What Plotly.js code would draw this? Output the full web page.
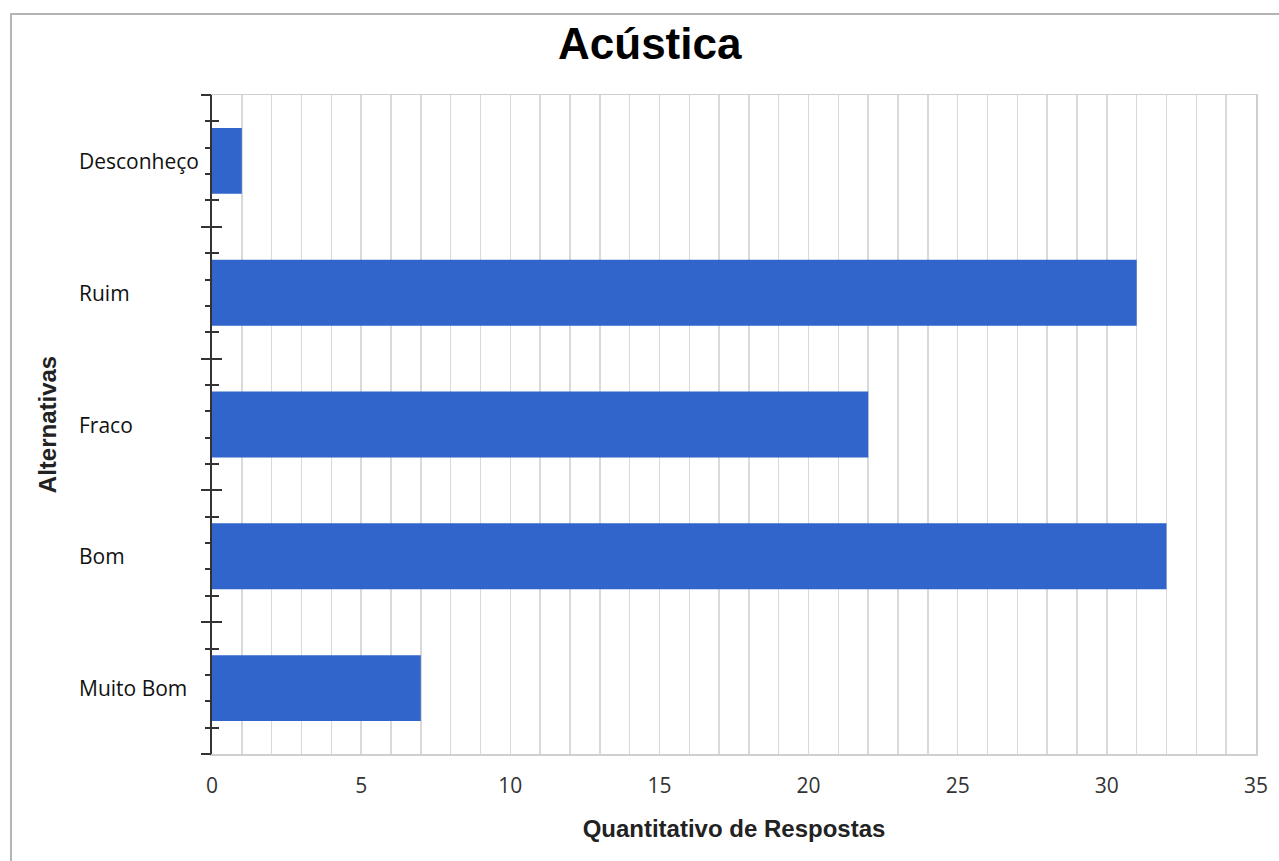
<!DOCTYPE html>
<html>
<head>
<meta charset="utf-8">
<script src="https://cdn.plot.ly/plotly-3.0.1.min.js"></script>
<style>
  html, body { margin: 0; padding: 0; background: #ffffff; }
  #wrap { position: relative; width: 1279px; height: 861px; overflow: hidden; }
  #chart { position: absolute; left: 0; top: 0; width: 1279px; height: 861px; }
  #frame { position: absolute; left: 10px; top: 13px; width: 1300px; height: 900px;
           border-left: 2px solid #b4b4b4; border-top: 2px solid #b4b4b4; pointer-events: none; }
</style>
</head>
<body>
<div id="wrap">
  <div id="chart"></div>
  <div id="frame"></div>
</div>
<script>
// Data
const categories = ["Muito Bom", "Bom", "Fraco", "Ruim", "Desconheço"];
const respostas = [7, 32, 22, 31, 1];
const xTickValues = [0, 5, 10, 15, 20, 25, 30, 35];

const chartTitle = "Acústica";
const xTitle = "Quantitativo de Respostas";
const yTitle = "Alternativas";

const positions = categories.map((c, i) => i);
const boundaries = [];
for (let i = 0; i <= categories.length; i++) boundaries.push(i - 0.5);
const minorAll = [];
const minorCross = [];
for (let i = 0; i < categories.length; i++) {
  [-0.3, -0.1, 0.1, 0.3].forEach(d => minorAll.push(i + d));
  [-0.3, 0.3].forEach(d => minorCross.push(i + d));
}
const yRange = [-0.5, categories.length - 0.5];
const axisDark = "#333333";

const barTrace = {
  type: "bar",
  orientation: "h",
  x: respostas,
  y: positions,
  width: 0.5,
  marker: { color: "#3165cc", line: { width: 0 } },
  hoverinfo: "x+text",
  text: categories,
  textposition: "none",
  showlegend: false
};

// invisible helper traces so the overlaid tick / border axes are drawn
function helper(axisName) {
  return {
    type: "scatter",
    mode: "markers",
    x: respostas,
    y: positions,
    yaxis: axisName,
    marker: { opacity: 0, size: 1 },
    hoverinfo: "skip",
    showlegend: false
  };
}

const annotations = categories.map((c, i) => ({
  text: c,
  xref: "paper",
  yref: "y",
  x: -0.1293,
  y: i,
  xanchor: "left",
  yanchor: "middle",
  showarrow: false,
  font: { family: "Open Sans, sans-serif", size: 21, color: "#111111" }
}));

const layout = {
  width: 1279,
  height: 861,
  margin: { l: 212, r: 23, t: 95, b: 107 },
  paper_bgcolor: "#ffffff",
  plot_bgcolor: "#ffffff",
  bargap: 0.5,
  title: {
    text: "<b>" + chartTitle + "</b>",
    xref: "container",
    yref: "container",
    x: 0.508,
    y: 1 - 44 / 861,
    xanchor: "center",
    yanchor: "middle",
    font: { family: "Liberation Sans, Arial, sans-serif", size: 44, color: "#000000" }
  },
  xaxis: {
    range: [0, 35],
    tickvals: xTickValues,
    ticktext: xTickValues.map(String),
    ticks: "outside",
    ticklen: 12,
    tickcolor: "rgba(0,0,0,0)",
    tickfont: { family: "Open Sans, sans-serif", size: 21, color: "#333333" },
    showgrid: true,
    gridcolor: "#d9d9d9",
    gridwidth: 1.5,
    minor: { dtick: 1, tick0: 0, showgrid: true, gridcolor: "#d9d9d9", gridwidth: 1.5, ticks: "" },
    zeroline: false,
    showline: true,
    linecolor: "#cfcfcf",
    linewidth: 1.5,
    mirror: true,
    fixedrange: true,
    title: {
      text: "<b>" + xTitle + "</b>",
      standoff: 22,
      font: { family: "Liberation Sans, Arial, sans-serif", size: 24, color: "#222222" }
    }
  },
  yaxis: {
    range: yRange,
    showticklabels: false,
    ticks: "",
    showgrid: false,
    zeroline: false,
    showline: true,
    linecolor: axisDark,
    linewidth: 2,
    fixedrange: true,
    title: {
      text: "<b>" + yTitle + "</b>",
      standoff: 147,
      font: { family: "Liberation Sans, Arial, sans-serif", size: 24, color: "#222222" }
    }
  },
  yaxis2: {
    overlaying: "y",
    range: yRange,
    tickmode: "array",
    tickvals: boundaries,
    ticks: "outside",
    ticklen: 10,
    tickwidth: 2,
    tickcolor: axisDark,
    showticklabels: false,
    showgrid: false,
    zeroline: false,
    showline: false,
    fixedrange: true,
    minor: { tickmode: "array", tickvals: minorAll, ticks: "outside", ticklen: 6, tickwidth: 2, tickcolor: axisDark, showgrid: false }
  },
  yaxis3: {
    overlaying: "y",
    range: yRange,
    tickmode: "array",
    tickvals: boundaries,
    ticks: "inside",
    ticklen: 10,
    tickwidth: 2,
    tickcolor: axisDark,
    showticklabels: false,
    showgrid: false,
    zeroline: false,
    showline: false,
    fixedrange: true,
    minor: { tickmode: "array", tickvals: minorCross, ticks: "inside", ticklen: 7, tickwidth: 2, tickcolor: axisDark, showgrid: false }
  },
  yaxis4: {
    overlaying: "y",
    side: "right",
    range: yRange,
    ticks: "",
    showticklabels: false,
    showgrid: false,
    zeroline: false,
    showline: true,
    linecolor: "#cfcfcf",
    linewidth: 1.5,
    fixedrange: true
  },
  annotations: annotations
};

Plotly.newPlot("chart", [barTrace, helper("y2"), helper("y3"), helper("y4")], layout,
  { displayModeBar: false, staticPlot: true });
</script>
</body>
</html>
